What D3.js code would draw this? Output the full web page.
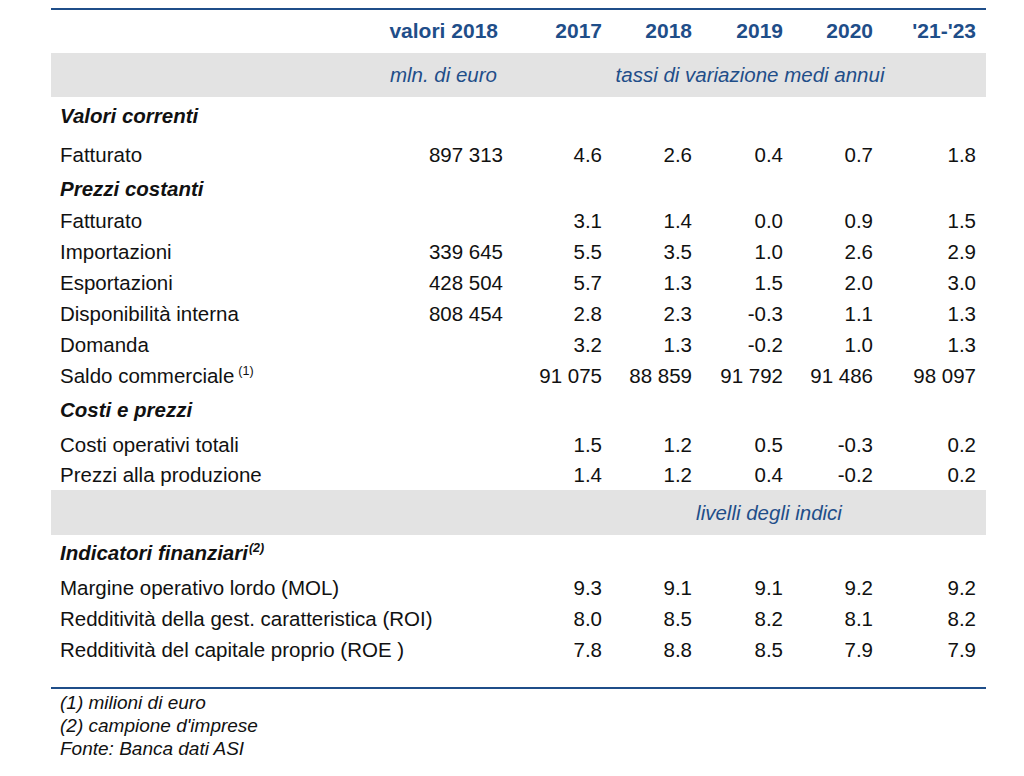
<!DOCTYPE html>
<html><head><meta charset="utf-8">
<script src="https://cdn.jsdelivr.net/npm/d3@7"></script>
<style>body{margin:0;background:#fff;} svg{display:block;font-family:"Liberation Sans",Arial,sans-serif;}</style>
</head><body><svg id="c" width="1024" height="776"></svg>
<script>
// ---- data ----
const columns = ["valori 2018","2017","2018","2019","2020","'21-'23"];
const rowLabels = ["Valori correnti","Fatturato","Prezzi costanti","Fatturato","Importazioni","Esportazioni","Disponibilità interna","Domanda","Saldo commerciale","Costi e prezzi","Costi operativi totali","Prezzi alla produzione","livelli degli indici","Indicatori finanziari","Margine operativo lordo (MOL)","Redditività della gest. caratteristica (ROI)","Redditività del capitale proprio (ROE )"];
const rowKinds = ["section","data","section","data","data","data","data","data","data","section","data","data","band","section","data","data","data"];
const rowNotes = ["","","","","","","","","(1)","","","","","(2)","","",""];
const valori2018 = ["","897 313","","","339 645","428 504","808 454","","","","","","","","","",""];
const v2017 = ["","4.6","","3.1","5.5","5.7","2.8","3.2","91 075","","1.5","1.4","","","9.3","8.0","7.8"];
const v2018 = ["","2.6","","1.4","3.5","1.3","2.3","1.3","88 859","","1.2","1.2","","","9.1","8.5","8.8"];
const v2019 = ["","0.4","","0.0","1.0","1.5","-0.3","-0.2","91 792","","0.5","0.4","","","9.1","8.2","8.5"];
const v2020 = ["","0.7","","0.9","2.6","2.0","1.1","1.0","91 486","","-0.3","-0.2","","","9.2","8.1","7.9"];
const v2123 = ["","1.8","","1.5","2.9","3.0","1.3","1.3","98 097","","0.2","0.2","","","9.2","8.2","7.9"];
const unitLeft = "mln. di euro";
const unitRight = "tassi di variazione medi annui";
const footnotes = ["(1) milioni di euro","(2) campione d'imprese","Fonte: Banca dati ASI"];

// ---- layout ----
const svg = d3.select("#c");
const blue = "#1f4e89", gray = "#e3e3e3", ink = "#111";
const L = 51, R = 986;
const colRight = [503, 602, 692, 783, 873, 976];
const headerRight = [498, 602, 692, 783, 873, 976];
const rowCenterY = [116,155,189,221,252,283,314,345,376,410,445,475,513,553,588,619,650];
const colVals = [valori2018, v2017, v2018, v2019, v2020, v2123];
const FS = 20.5;

const x = d3.scaleOrdinal().domain(d3.range(columns.length)).range(colRight);

// top rule
svg.append("line").attr("x1",L).attr("x2",R).attr("y1",9).attr("y2",9).attr("stroke",blue).attr("stroke-width",2);
// header
svg.selectAll("text.hdr").data(columns).join("text").attr("class","hdr")
  .attr("x",(d,i)=>headerRight[i]).attr("y",38).attr("text-anchor","end")
  .attr("font-size",21).attr("font-weight","bold").attr("fill",blue).text(d=>d);
// unit band
svg.append("rect").attr("x",L).attr("y",53).attr("width",R-L).attr("height",44).attr("fill",gray);
svg.append("text").attr("x",497).attr("y",82).attr("text-anchor","end").attr("font-size",FS).attr("font-style","italic").attr("fill",blue).text(unitLeft);
svg.append("text").attr("x",750).attr("y",82).attr("text-anchor","middle").attr("font-size",FS).attr("font-style","italic").attr("fill",blue).text(unitRight);

// rows
const rows = rowLabels.map((lab,i)=>({lab,kind:rowKinds[i],note:rowNotes[i],y:rowCenterY[i],i}));
rows.filter(r=>r.kind==="band").forEach(r=>{
  svg.append("rect").attr("x",L).attr("y",r.y-23).attr("width",R-L).attr("height",45).attr("fill",gray);
  svg.append("text").attr("x",769).attr("y",r.y+7).attr("text-anchor","middle").attr("font-size",FS).attr("font-style","italic").attr("fill",blue).text(r.lab);
});
rows.filter(r=>r.kind!=="band").forEach(r=>{
  const t = svg.append("text").attr("x",60).attr("y",r.y+7).attr("font-size",FS).attr("fill",ink);
  if(r.kind==="section"){ t.attr("font-weight","bold").attr("font-style","italic"); }
  t.append("tspan").text(r.lab);
  if(r.note){
    t.append("tspan").attr("font-size",12.5).attr("dy",-8).attr("dx",r.kind==="section"?1:4).text(r.note);
  }
  if(r.kind==="data"){
    colVals.forEach((vals,ci)=>{
      if(vals[r.i]) svg.append("text").attr("x",x(ci)).attr("y",r.y+7).attr("text-anchor","end")
        .attr("font-size",FS).attr("fill",ink).text(vals[r.i]);
    });
  }
});

// bottom rule
svg.append("line").attr("x1",L).attr("x2",R).attr("y1",688).attr("y2",688).attr("stroke",blue).attr("stroke-width",2);
svg.selectAll("text.fn").data(footnotes).join("text").attr("class","fn")
  .attr("x",60).attr("y",(d,i)=>709+i*23).attr("font-size",19).attr("font-style","italic").attr("fill",ink).text(d=>d);
</script></body></html>
